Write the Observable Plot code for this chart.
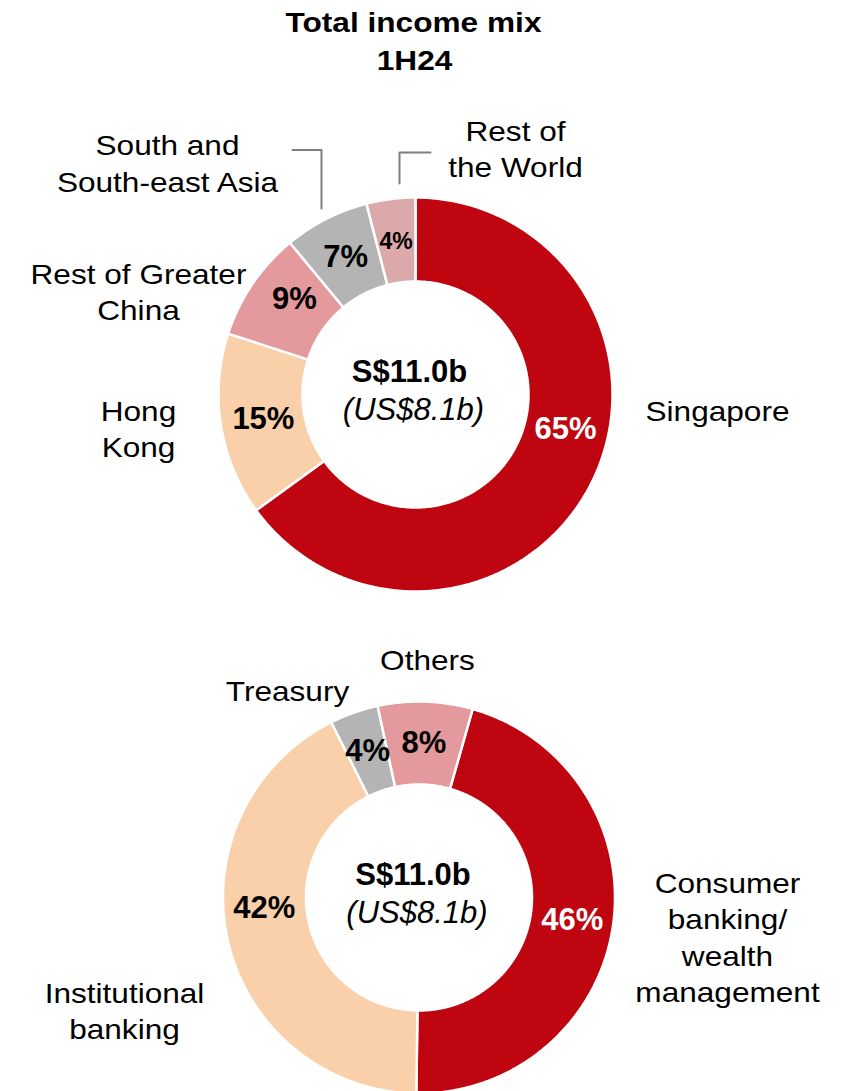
<!DOCTYPE html>
<html>
<head>
<meta charset="utf-8">
<script src="https://cdn.jsdelivr.net/npm/d3@7"></script>
<script src="https://cdn.jsdelivr.net/npm/@observablehq/plot@0.6"></script>
<style>
  body { margin: 0; background: #fff; }
  #chart { width: 851px; height: 1091px; }
</style>
</head>
<body>
<div id="chart"></div>
<script>
// ---------------- DATA ----------------
const titleLines = ["Total income mix", "1H24"];
const centerTotal = "S$11.0b";
const centerUSD = "(US$8.1b)";

// Donut 1: by geography
const regionNames  = ["Singapore", "Hong Kong", "Rest of Greater China", "South and South-east Asia", "Rest of the World"];
const regionLabels = ["Singapore", "Hong\nKong", "Rest of Greater\nChina", "South and\nSouth-east Asia", "Rest of\nthe World"];
const regionShares = [65, 15, 9, 7, 4];

// Donut 2: by business segment
const segmentNames  = ["Consumer banking/wealth management", "Institutional banking", "Treasury", "Others"];
const segmentLabels = ["Consumer\nbanking/\nwealth\nmanagement", "Institutional\nbanking", "Treasury", "Others"];
const segmentShares = [45.8, 42.4, 4.0, 7.8];

// ---------------- STYLE / LAYOUT ----------------
const regionColors  = ["#BF0510", "#F9D0A9", "#E4999D", "#B4B4B4", "#DCA9AA"];
const segmentColors = ["#BF0510", "#F9D0A9", "#B4B4B4", "#E4999D"];

const W = 851, H = 1091;
const FONT = "'Liberation Sans', Arial, Helvetica, sans-serif";
const deg = Math.PI / 180;

const donuts = [
  {
    names: regionNames, labels: regionLabels, values: regionShares, colors: regionColors,
    cx: 415, cy: 394, r0: 113, r1: 197, start: 0,
    labelR: 154, nudge: {"Singapore": -14, "Rest of Greater China": 4},
    pctSize: {"Rest of the World": 23},
    catOffset: [[302, 14.5], [-277, 33], [-277, -104], [-248, -232.5], [100, -247]],
    leaders: [
      [[-123, -244.5], [-94, -244.5], [-94, -186]],
      [[-16, -211], [-16, -242], [15, -242]]
    ]
  },
  {
    names: segmentNames, labels: segmentLabels, values: segmentShares, colors: segmentColors,
    cx: 418.5, cy: 897, r0: 113, r1: 196, start: 15.9 * deg,
    labelR: 155, nudge: {"Institutional banking": 9},
    pctSize: {},
    catOffset: [[308.5, 38.5], [-294.5, 112], [-131.5, -208.5], [8.5, -239.5]],
    leaders: []
  }
];

function arcPoints(cx, cy, r0, r1, a0, a1) {
  const pts = [];
  const n = Math.max(2, Math.ceil((a1 - a0) / (0.5 * deg)));
  for (let i = 0; i <= n; i++) {
    const a = a0 + (a1 - a0) * i / n;
    pts.push({x: cx + r1 * Math.sin(a), y: cy - r1 * Math.cos(a)});
  }
  for (let i = n; i >= 0; i--) {
    const a = a0 + (a1 - a0) * i / n;
    pts.push({x: cx + r0 * Math.sin(a), y: cy - r0 * Math.cos(a)});
  }
  return pts;
}

const marks = [];

// Title
marks.push(Plot.text([titleLines[0]], {x: () => 413, y: () => 22.5, text: d => d,
  fontWeight: "bold", fontSize: 28, fill: "black"}));
marks.push(Plot.text([titleLines[1]], {x: () => 414, y: () => 60.5, text: d => d,
  fontWeight: "bold", fontSize: 28, fill: "black"}));

donuts.forEach(dn => {
  const rows = dn.names.map((name, i) => ({name, label: dn.labels[i], value: dn.values[i], color: dn.colors[i], index: i}));
  const arcs = d3.pie().sort(null).value(d => d.value)
    .startAngle(dn.start).endAngle(dn.start + 2 * Math.PI)(rows);

  // slices
  arcs.forEach(a => {
    marks.push(Plot.line(arcPoints(dn.cx, dn.cy, dn.r0, dn.r1, a.startAngle, a.endAngle), {
      x: "x", y: "y", curve: "linear-closed",
      fill: a.data.color, stroke: "white", strokeWidth: 2.5, strokeLinejoin: "round"
    }));
  });

  // percentage labels
  const pct = arcs.map(a => {
    const ang = (a.startAngle + a.endAngle) / 2 + (dn.nudge[a.data.name] || 0) * deg;
    return {
      x: dn.cx + dn.labelR * Math.sin(ang),
      y: dn.cy - dn.labelR * Math.cos(ang),
      text: Math.round(a.data.value) + "%",
      size: dn.pctSize[a.data.name] || 31,
      white: a.data.index === 0
    };
  });
  const groups = d3.groups(pct, d => d.size + "|" + d.white);
  groups.forEach(([key, arr]) => {
    marks.push(Plot.text(arr, {x: "x", y: "y", text: "text", fontWeight: "bold",
      fontSize: arr[0].size, fill: arr[0].white ? "white" : "black"}));
  });

  // leader lines
  dn.leaders.forEach(seg => {
    marks.push(Plot.line(seg.map(([dx, dy]) => ({x: dn.cx + dx, y: dn.cy + dy})), {
      x: "x", y: "y", stroke: "#7F7F7F", strokeWidth: 2, fill: "none"
    }));
  });

  // category labels
  const cats = rows.map((r, i) => ({x: dn.cx + dn.catOffset[i][0], y: dn.cy + dn.catOffset[i][1], text: r.label}));
  marks.push(Plot.text(cats, {x: "x", y: "y", text: "text", fontSize: 27, lineHeight: 1.35,
    fill: "black"}));

  // center labels
  marks.push(Plot.text([centerTotal], {x: () => dn.cx - 6, y: () => dn.cy - 22, text: d => d,
    fontWeight: "bold", fontSize: 31, fill: "black"}));
  marks.push(Plot.text([centerUSD], {x: () => dn.cx - 2, y: () => dn.cy + 16, text: d => d,
    fontStyle: "italic", fontSize: 31, fill: "black"}));
});

const chart = Plot.plot({
  width: W, height: H, margin: 0,
  x: {domain: [0, W], range: [0, W], axis: null},
  y: {domain: [0, H], range: [0, H], axis: null},
  style: {fontFamily: FONT, background: "white", overflow: "visible"},
  marks
});

// horizontal stretch of the wide-set label typography, matched by text content
const catSet = new Set([...regionLabels, ...segmentLabels].map(s => s.replace(/\n/g, "")));
const titleSet = new Set(titleLines);
function stretchEl(t, s) {
  const tr = t.getAttribute("transform");
  if (tr) {
    t.setAttribute("transform", tr + ` scale(${s},1)`);
  } else {
    const x = +t.getAttribute("x") || 0, y = +t.getAttribute("y") || 0;
    t.setAttribute("transform", `translate(${x},${y}) scale(${s},1) translate(${-x},${-y})`);
  }
}
chart.querySelectorAll("text").forEach(t => {
  const c = t.textContent;
  if (catSet.has(c)) stretchEl(t, 1.17);
  else if (titleSet.has(c)) stretchEl(t, 1.13);
});

document.getElementById("chart").appendChild(chart);
</script>
</body>
</html>
